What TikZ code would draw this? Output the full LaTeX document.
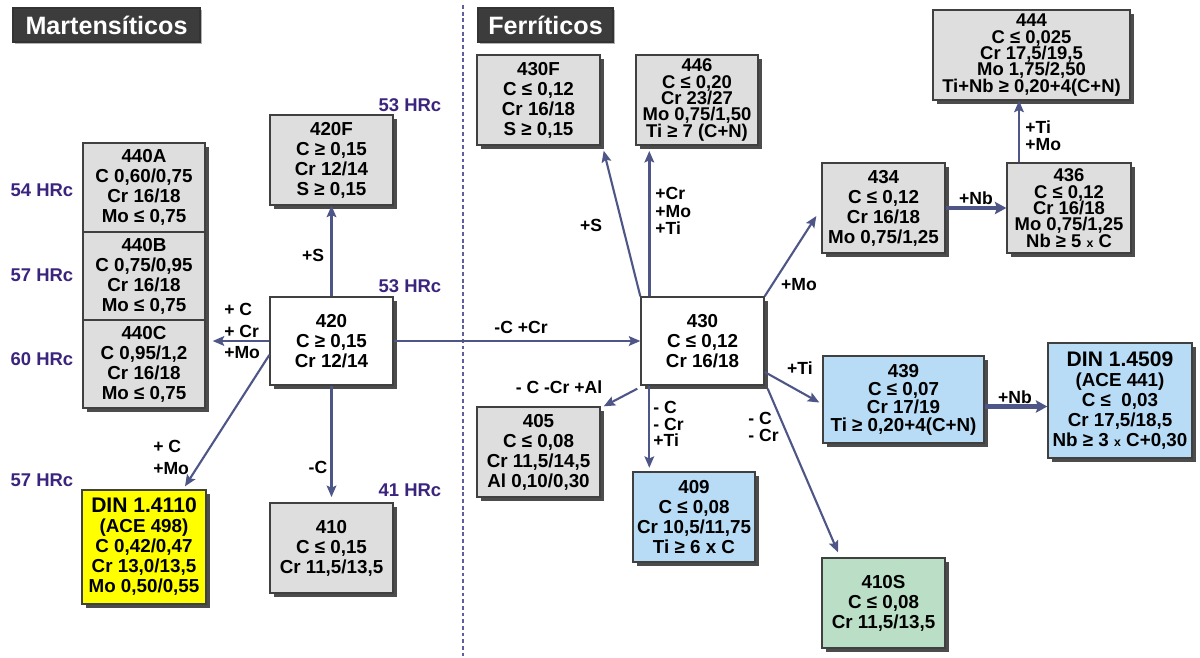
\documentclass[tikz,border=0pt]{standalone}
\usepackage{fontspec}
\setmainfont{Liberation Sans}
\usetikzlibrary{arrows.meta,shadows,positioning,calc}

\definecolor{boxgray}{RGB}{222,222,222}
\definecolor{boxblue}{RGB}{184,220,245}
\definecolor{boxgreen}{RGB}{186,222,198}
\definecolor{boxyellow}{RGB}{255,255,0}
\definecolor{arrowcol}{RGB}{78,86,135}
\definecolor{hrccol}{RGB}{58,36,125}
\definecolor{titlecol}{RGB}{60,60,60}
\definecolor{sepcol}{RGB}{95,95,160}

\begin{document}
\begin{tikzpicture}[x=0.02cm,y=-0.02cm,
  box/.style={draw=black!75,line width=0.8pt,fill=boxgray,align=center,inner sep=0pt,
    minimum width=2.46cm,minimum height=1.8cm,
    font=\fontsize{10.7}{11.4}\selectfont\bfseries,
    drop shadow={shadow xshift=2.2pt,shadow yshift=-2.2pt,fill=black!70,opacity=1}},
  tight/.style={font=\fontsize{10.5}{9.3}\selectfont\bfseries},
  arr/.style={draw=arrowcol,line width=1.2pt,-{Stealth[length=6.5pt,width=5.5pt,inset=1.2pt]}},
  fat/.style={arr,line width=2.6pt,-{Stealth[length=6.5pt,width=7pt,inset=1.2pt]}},
  lbl/.style={font=\fontsize{10}{11.5}\selectfont\bfseries,inner sep=0pt,align=left},
  hrc/.style={font=\fontsize{10.5}{12}\selectfont\bfseries,text=hrccol,inner sep=0pt},
  title/.style={fill=titlecol,draw=black!80,line width=0.8pt,text=white,inner sep=0pt,
    font=\fontsize{14.3}{16}\selectfont\bfseries,minimum height=0.68cm,
    drop shadow={shadow xshift=1pt,shadow yshift=-1pt,fill=black!30,opacity=1}},
  sep/.style={draw=sepcol,line width=1pt,dash pattern=on 2.2pt off 1.6pt}
]
\useasboundingbox (0,0) rectangle (1200,657);

% titles and separator
\node[title,minimum width=3.74cm] (tMart) at (106.5,25) {Martensíticos};
\node[title,minimum width=2.7cm] (tFerr) at (545.5,25) {Ferríticos};
\draw[sep] (463,5) -- (463,657);

% martensitic family
\node[box] (n420F) at (331.5,160) {420F\\C ≥ 0,15\\Cr 12/14\\S ≥ 0,15};
\node[box,minimum width=2.44cm,minimum height=1.78cm] (n440A) at (144,187.5) {440A\\C 0,60/0,75\\Cr 16/18\\Mo ≤ 0,75};
\node[box,minimum width=2.44cm,minimum height=1.76cm] (n440B) at (144,276) {440B\\C 0,75/0,95\\Cr 16/18\\Mo ≤ 0,75};
\node[box,minimum width=2.44cm,minimum height=1.76cm] (n440C) at (144,364) {440C\\C 0,95/1,2\\Cr 16/18\\Mo ≤ 0,75};
\node[box,fill=white,minimum height=1.76cm] (n420) at (331.5,341) {420\\C ≥ 0,15\\Cr 12/14};
\node[box,fill=boxyellow,minimum width=2.48cm,minimum height=2.28cm] (n4110) at (144,547)
  {{\fontsize{12}{13}\selectfont DIN 1.4110}\\(ACE 498)\\C 0,42/0,47\\Cr 13,0/13,5\\Mo 0,50/0,55};
\node[box] (n410) at (331.5,548) {410\\C ≤ 0,15\\Cr 11,5/13,5};

% hardness
\node[hrc] (h420F) at (410,105) {53 HRc};
\node[hrc] (h440A) at (42,190) {54 HRc};
\node[hrc] (h440B) at (42,275) {57 HRc};
\node[hrc] (h420) at (410,286) {53 HRc};
\node[hrc] (h440C) at (42,359) {60 HRc};
\node[hrc] (h4110) at (42,480) {57 HRc};
\node[hrc] (h410) at (410,490) {41 HRc};

% ferritic family
\node[box] (n430F) at (538.5,100) {430F\\C ≤ 0,12\\Cr 16/18\\S ≥ 0,15};
\node[box,tight,minimum width=2.44cm] (n446) at (697,100) {446\\C ≤ 0,20\\Cr 23/27\\Mo 0,75/1,50\\Ti ≥ 7 (C+N)};
\node[box,fill=white,minimum height=1.76cm] (n430) at (702.5,341) {430\\C ≤ 0,12\\Cr 16/18};
\node[box] (n434) at (883.5,208) {434\\C ≤ 0,12\\Cr 16/18\\Mo 0,75/1,25};
\node[box,tight,minimum width=2.48cm] (n436) at (1069,208) {436\\C ≤ 0,12\\Cr 16/18\\Mo 0,75/1,25\\Nb ≥ 5 {\scriptsize x} C};
\node[box,tight,minimum width=3.94cm] (n444) at (1031.5,55) {444\\C ≤ 0,025\\Cr 17,5/19,5\\Mo 1,75/2,50\\Ti+Nb ≥ 0,20+4(C+N)};
\node[box,fill=boxblue,font=\fontsize{10.7}{10.2}\selectfont\bfseries,
  minimum width=3.22cm,minimum height=1.74cm] (n439) at (903.5,399.5) {439\\C ≤ 0,07\\Cr 17/19\\Ti ≥ 0,20+4(C+N)};
\node[box,fill=boxblue,minimum width=2.88cm,minimum height=2.3cm] (n4509) at (1120,400.5)
  {{\fontsize{12}{13}\selectfont DIN 1.4509}\\(ACE 441)\\C ≤ \ 0,03\\Cr 17,5/18,5\\Nb ≥ 3 {\scriptsize x} C+0,30};
\node[box] (n405) at (538.5,452) {405\\C ≤ 0,08\\Cr 11,5/14,5\\Al 0,10/0,30};
\node[box,fill=boxblue,minimum width=2.44cm] (n409) at (694,517) {409\\C ≤ 0,08\\Cr 10,5/11,75\\Ti ≥ 6 x C};
\node[box,fill=boxgreen] (n410S) at (883.5,603) {410S\\C ≤ 0,08\\Cr 11,5/13,5};

% connectors
\draw[arr] (n420.north) -- (n420F.south);
\draw[arr,shorten >=4pt] (n420.west) -- (n420.west -| n440C.east);
\draw[arr] ([yshift=-0.28cm]n420.west) -- ([xshift=0.82cm,yshift=0.06cm]n4110.north);
\draw[arr,shorten >=3pt] (n420.south) -- (n420.south |- n410.north);
\draw[arr] (n420.east) -- (n430.west);
\draw[arr] (n430.north west) -- ([shift={(3,5)}]n430F.south east);
\draw[arr,line width=1.6pt,shorten >=3pt] ([xshift=0.18cm]n430.north west) -- ([xshift=0.18cm]n430.north west |- n446.south);
\draw[arr] (n430.north east) -- ([shift={(-5,8)}]n434.west);
\draw[fat] (n434.east) -- (n436.west);
\draw[arr] ([xshift=-1cm]n436.north) -- ([xshift=-1cm]n436.north |- n444.south);
\draw[arr] ([yshift=-0.62cm]n430.east) -- ([shift={(-3,3)}]n439.west);
\draw[fat] ([yshift=-0.14cm]n439.east) -- ([yshift=-0.14cm]n439.east -| n4509.west);
\draw[arr] ([shift={(-3,3)}]n430.south west) -- ([shift={(3,0)}]n405.north east);
\draw[arr,shorten >=2pt] ([xshift=0.18cm]n430.south west) -- ([xshift=0.18cm]n430.south west |- n409.north);
\draw[arr] ([shift={(3,3)}]n430.south east) -- ([xshift=-0.91cm,yshift=0.1cm]n410S.north);

% connector labels
\node[lbl] (lS420) at (313,255) {+S};
\node[lbl,anchor=west,font=\fontsize{10}{12}\selectfont\bfseries] (lCCrMo) at (224,331) {+ C\\+ Cr\\+Mo};
\node[lbl,anchor=west,font=\fontsize{10}{12.5}\selectfont\bfseries] (lCMo) at (153,457) {+ C\\+Mo};
\node[lbl] (lC420) at (318,467) {-C};
\node[lbl] (lCCr) at (521,327) {-C +Cr};
\node[lbl] (lS430) at (591,225) {+S};
\node[lbl,anchor=west,font=\fontsize{10}{10}\selectfont\bfseries] (lCrMoTi) at (655,211) {+Cr\\+Mo\\+Ti};
\node[lbl] (lMo) at (799,285) {+Mo};
\node[lbl] (lNb434) at (976,198) {+Nb};
\node[lbl,anchor=west,font=\fontsize{10}{9.8}\selectfont\bfseries] (lTiMo) at (1025,136) {+Ti\\+Mo};
\node[lbl] (lTi) at (800,368) {+Ti};
\node[lbl] (lNb439) at (1015,397) {+Nb};
\node[lbl] (lCCrAl) at (559,387) {- C -Cr +Al};
\node[lbl,anchor=west,font=\fontsize{10}{9.3}\selectfont\bfseries] (lCCrTi) at (653,424) {- C\\- Cr\\+Ti};
\node[lbl,anchor=west,font=\fontsize{10}{9.6}\selectfont\bfseries] (lCCr410S) at (748,427) {- C\\- Cr};
\end{tikzpicture}
\end{document}
